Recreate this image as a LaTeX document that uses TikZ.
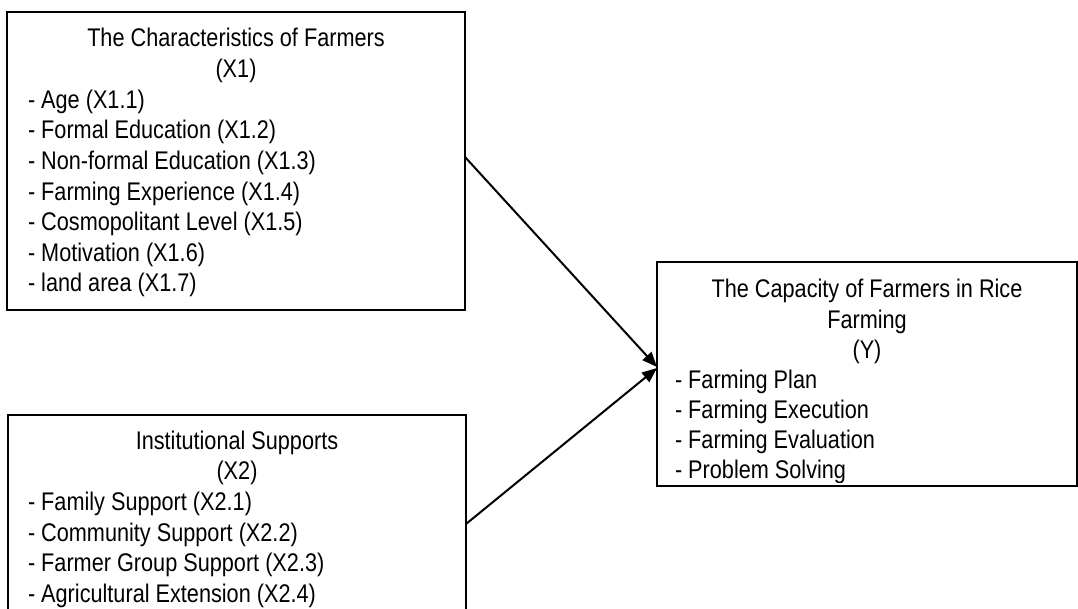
\documentclass[tikz,border=0pt]{standalone}
\usepackage{fontspec}
\setmainfont{Liberation Sans}[FakeStretch=0.85]
\usetikzlibrary{arrows.meta,calc}
\tikzset{
  boxnode/.style={draw=black, line width=1.8pt, rectangle, inner sep=0pt, outer sep=0pt},
  txt/.style={inner sep=0pt, outer sep=0pt, font=\fontsize{25.5}{30}\selectfont},
  ttl/.style={txt, anchor=base},
  itm/.style={txt, anchor=base west},
  conn/.style={line width=2pt, -{Triangle[length=15pt,width=12pt]}}
}
\begin{document}
\begin{tikzpicture}[x=1pt,y=-1pt]
\clip (0,0) rectangle (1078,609);
\fill[white] (0,0) rectangle (1078,609);
% Box 1
\node[boxnode, minimum width=458pt, minimum height=298pt] (box1) at (236,161) {};
\node[ttl] (b1t1) at (236,46.5) {The Characteristics of Farmers};
\node[ttl] (b1t2) at (236,77.3) {(X1)};
\node[itm] (b1i1) at (28,108.5) {- Age (X1.1)};
\node[itm] (b1i2) at (28,139.0) {- Formal Education (X1.2)};
\node[itm] (b1i3) at (28,169.6) {- Non-formal Education (X1.3)};
\node[itm] (b1i4) at (28,200.1) {- Farming Experience (X1.4)};
\node[itm] (b1i5) at (28,230.7) {- Cosmopolitant Level (X1.5)};
\node[itm] (b1i6) at (28,261.2) {- Motivation (X1.6)};
\node[itm] (b1i7) at (28,291.8) {- land area (X1.7)};
% Box 2
\node[boxnode, minimum width=458pt, minimum height=240pt] (box2) at (237,535) {};
\node[ttl] (b2t1) at (237,449.0) {Institutional Supports};
\node[ttl] (b2t2) at (237,479.7) {(X2)};
\node[itm] (b2i1) at (28,510.4) {- Family Support (X2.1)};
\node[itm] (b2i2) at (28,541.1) {- Community Support (X2.2)};
\node[itm] (b2i3) at (28,571.8) {- Farmer Group Support (X2.3)};
\node[itm] (b2i4) at (28,602.5) {- Agricultural Extension (X2.4)};
% Box 3
\node[boxnode, minimum width=420pt, minimum height=224pt] (box3) at (867,374) {};
\node[ttl] (b3t1) at (867,298) {The Capacity of Farmers in Rice};
\node[ttl] (b3t2) at (867,328) {Farming};
\node[ttl] (b3t3) at (867,358) {(Y)};
\node[itm] (b3i1) at (675,388.5) {- Farming Plan};
\node[itm] (b3i2) at (675,418.5) {- Farming Execution};
\node[itm] (b3i3) at (675,448.5) {- Farming Evaluation};
\begin{scope}
\clip (660,455) rectangle (1070,482);
\node[itm] (b3i4) at (675,478.5) {- Problem Solving};
\end{scope}
% Connectors
\coordinate (s1) at ($(box1.north east)+(0,145)$);
\coordinate (s2) at ($(box2.north east)+(0,109)$);
\coordinate (e1) at ($(box3.north west)+(0,105)$);
\coordinate (e2) at ($(box3.north west)+(0,106)$);
\draw[conn] (s1) -- (e1);
\draw[conn] (s2) -- (e2);
\end{tikzpicture}
\end{document}
